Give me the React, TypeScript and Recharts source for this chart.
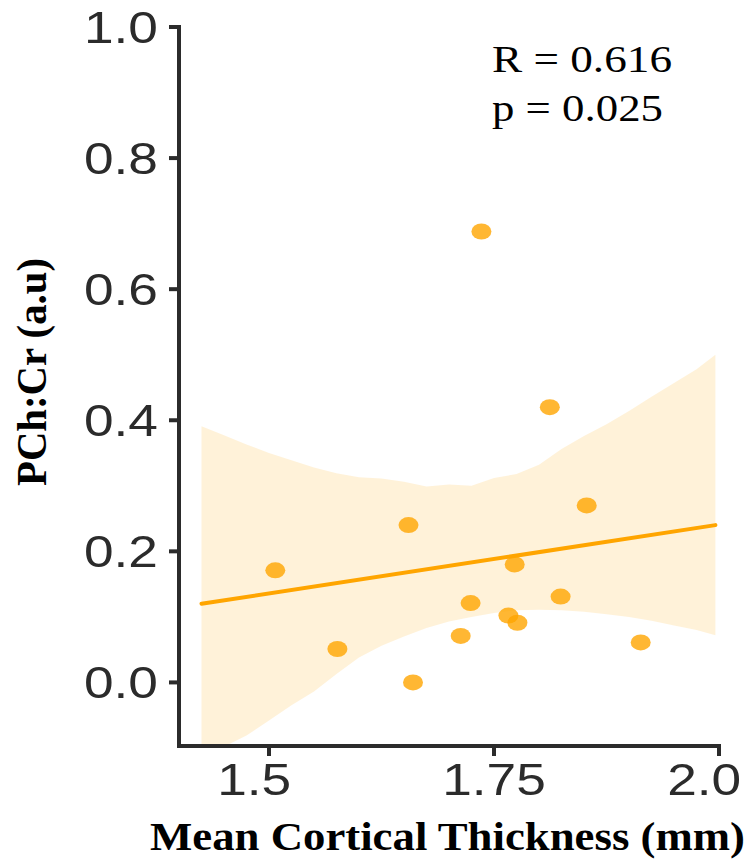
// Scatter of PCh:Cr against mean cortical thickness, with the linear fit and
// its confidence band drawn as a shaded range area behind the points.

import {
  ComposedChart,
  Area,
  Line,
  Scatter,
  XAxis,
  YAxis,
} from "recharts";

const thickness = [1.507, 1.576, 1.655, 1.66, 1.713, 1.724, 1.736, 1.766, 1.773, 1.776, 1.812, 1.824, 1.853, 1.913];
const pchCr = [0.171, 0.051, 0.24, 0.0, 0.071, 0.121, 0.688, 0.102, 0.18, 0.091, 0.42, 0.131, 0.27, 0.061];

const bandX = [1.425, 1.45, 1.475, 1.5, 1.525, 1.55, 1.575, 1.6, 1.625, 1.65, 1.675, 1.7, 1.725, 1.75, 1.775, 1.8, 1.825, 1.85, 1.875, 1.9, 1.925, 1.95, 1.975, 1.996];
const bandLow = [-0.125, -0.098, -0.081, -0.058, -0.035, -0.014, 0.013, 0.038, 0.056, 0.07, 0.083, 0.093, 0.1, 0.106, 0.11, 0.111, 0.11, 0.108, 0.104, 0.1, 0.094, 0.087, 0.08, 0.072];
const bandHigh = [0.391, 0.377, 0.363, 0.35, 0.339, 0.328, 0.319, 0.313, 0.311, 0.306, 0.299, 0.302, 0.3, 0.312, 0.318, 0.332, 0.356, 0.376, 0.394, 0.414, 0.436, 0.457, 0.478, 0.5];

const fitX = [1.425, 1.996];
const fitY = [0.12, 0.24];

const xTicks = [1.5, 1.75, 2.0];
const xTickLabels = ["1.5", "1.75", "2.0"];
const yTicks = [0, 0.2, 0.4, 0.6, 0.8, 1.0];

const statLines = ["R = 0.616", "p = 0.025"];

const points = thickness.map((x, i) => ({ x, y: pchCr[i] }));
const band = bandX.map((x, i) => ({ x, band: [bandLow[i], bandHigh[i]] }));
const fit = fitX.map((x, i) => ({ x, fit: fitY[i] }));

const ORANGE = "#FFA500";
const AXIS = "#2b2b2b";
const TICK_FONT = "'Liberation Sans', Arial, sans-serif";
const TITLE_FONT = "'Liberation Serif', 'Times New Roman', serif";

// tick text in the picture is stretched sideways, so widths are forced
function textWidth(s: string, size: number) {
  let w = 0;
  for (const ch of s) w += ch === "." ? 0.278 : 0.556;
  return w * size * 1.21;
}

function YTick(props: any) {
  const { x, y, payload } = props;
  const label = Number(payload.value).toFixed(1);
  const w = textWidth(label, 44);
  return (
    <text
      x={x - w}
      y={y}
      dy="0.36em"
      fontSize={44}
      fontFamily={TICK_FONT}
      fill="#2b2b2b"
      textLength={w}
      lengthAdjust="spacingAndGlyphs"
    >
      {label}
    </text>
  );
}

function XTick(props: any) {
  const { x, y, payload } = props;
  const idx = xTicks.findIndex((t) => Math.abs(t - payload.value) < 1e-6);
  const label = idx >= 0 ? xTickLabels[idx] : String(payload.value);
  const w = textWidth(label, 44);
  // labels start where a 4-character label would start
  const start = x - textWidth("1.75", 44) / 2;
  return (
    <text
      x={start}
      y={y + 37}
      fontSize={44}
      fontFamily={TICK_FONT}
      fill="#2b2b2b"
      textLength={w}
      lengthAdjust="spacingAndGlyphs"
    >
      {label}
    </text>
  );
}

function Dot(props: any) {
  const { cx, cy } = props;
  if (cx == null || cy == null) return null;
  return <ellipse cx={cx} cy={cy} rx={10} ry={8} fill={ORANGE} fillOpacity={0.8} />;
}

export default function App() {
  return (
    <div style={{ position: "absolute", left: 0, top: 0, width: 748, height: 862, background: "#fff" }}>
      <ComposedChart
        width={748}
        height={862}
        margin={{ top: 27, right: 29, bottom: 56, left: 0 }}
      >
        <XAxis
          type="number"
          dataKey="x"
          domain={[1.4, 2.0]}
          ticks={xTicks}
          allowDataOverflow
          height={60}
          tickSize={10}
          tickMargin={2}
          axisLine={{ stroke: AXIS, strokeWidth: 4, strokeLinecap: "square" }}
          tickLine={{ stroke: AXIS, strokeWidth: 4 }}
          tick={<XTick />}
        />
        <YAxis
          type="number"
          domain={[-0.097, 1.0]}
          ticks={yTicks}
          allowDataOverflow
          width={179}
          tickSize={10}
          tickMargin={11}
          axisLine={{ stroke: AXIS, strokeWidth: 4, strokeLinecap: "square" }}
          tickLine={{ stroke: AXIS, strokeWidth: 4 }}
          tick={<YTick />}
        />
        <Area
          data={band}
          dataKey="band"
          type="linear"
          fill={ORANGE}
          fillOpacity={0.15}
          stroke="none"
          isAnimationActive={false}
        />
        <Line
          data={fit}
          dataKey="fit"
          type="linear"
          stroke={ORANGE}
          strokeWidth={4}
          strokeLinecap="round"
          dot={false}
          activeDot={false}
          isAnimationActive={false}
        />
        <Scatter data={points} dataKey="y" shape={<Dot />} isAnimationActive={false} />
      </ComposedChart>
      <svg
        width={748}
        height={862}
        style={{ position: "absolute", left: 0, top: 0, pointerEvents: "none" }}
      >
        <text
          x={150}
          y={850}
          fontSize={40}
          fontWeight="bold"
          fontFamily={TITLE_FONT}
          fill="#000"
          textLength={595}
          lengthAdjust="spacingAndGlyphs"
        >
          Mean Cortical Thickness (mm)
        </text>
        <text
          x={31}
          y={372}
          fontSize={43}
          fontWeight="bold"
          fontFamily={TITLE_FONT}
          fill="#000"
          textAnchor="middle"
          dominantBaseline="central"
          transform="rotate(-90 31 372)"
          textLength={228}
          lengthAdjust="spacingAndGlyphs"
        >
          PCh:Cr (a.u)
        </text>
        <text
          x={492}
          y={72}
          fontSize={38}
          fontFamily={TITLE_FONT}
          fill="#000"
          textLength={180}
          lengthAdjust="spacingAndGlyphs"
        >
          {statLines[0]}
        </text>
        <text
          x={492}
          y={121}
          fontSize={38}
          fontFamily={TITLE_FONT}
          fill="#000"
          textLength={171}
          lengthAdjust="spacingAndGlyphs"
        >
          {statLines[1]}
        </text>
      </svg>
    </div>
  );
}
